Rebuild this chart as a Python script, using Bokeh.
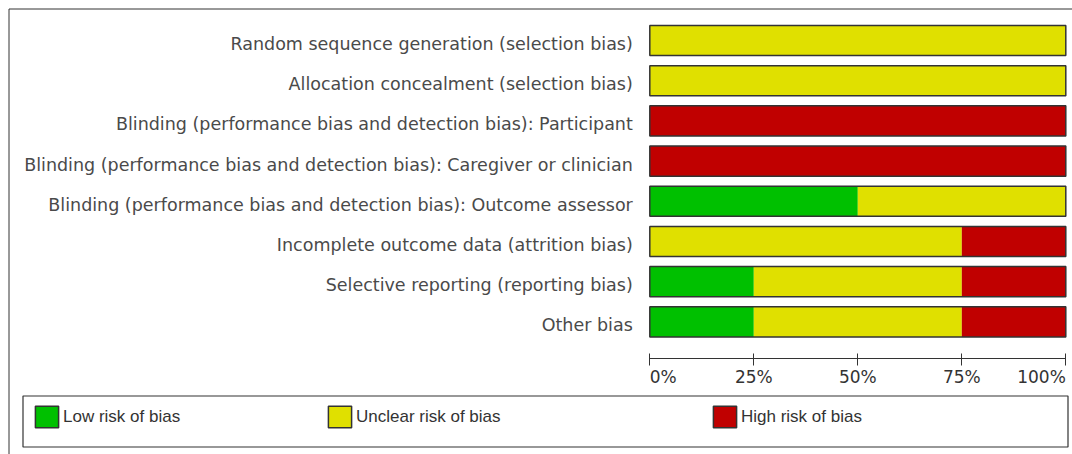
from bokeh.plotting import figure
from bokeh.models import Range1d, FixedTicker, Legend, LegendItem, ColumnDataSource, BoxAnnotation
from bokeh.embed import file_html
from bokeh.resources import INLINE
from bokeh.core.properties import value

# ---------------- data ----------------
domains = [
    "Random sequence generation (selection bias)",
    "Allocation concealment (selection bias)",
    "Blinding (performance bias and detection bias): Participant",
    "Blinding (performance bias and detection bias): Caregiver or clinician",
    "Blinding (performance bias and detection bias): Outcome assessor",
    "Incomplete outcome data (attrition bias)",
    "Selective reporting (reporting bias)",
    "Other bias",
]
low = [0, 0, 0, 0, 50, 0, 25, 25]
unclear = [100, 100, 0, 0, 50, 75, 50, 50]
high = [0, 0, 100, 100, 0, 25, 25, 25]
levels = ["Low risk of bias", "Unclear risk of bias", "High risk of bias"]
colors = ["#00C000", "#E0E000", "#C00000"]
ticks = [0, 25, 50, 75, 100]
tick_labels = ["0%", "25%", "50%", "75%", "100%"]

n = len(domains)
ypos = [n - 1 - i for i in range(n)]
total = [a + b + c for a, b, c in zip(low, unclear, high)]
src = ColumnDataSource(dict(y=ypos, low=low, unclear=unclear, high=high, total=total))

EDGE = "#333333"
W, H = 1065, 447

# ---------------- figure (frame covers whole canvas) ----------------
p = figure(width=W, height=H, margin=(7, 0, 0, 7),
           x_range=Range1d(-154.40, 101.61), y_range=Range1d(-3.299, 7.821),
           output_backend="svg", toolbar_location=None, min_border=0)
p.outline_line_color = None
p.xgrid.visible = False
p.ygrid.visible = False

# outer frame: only its top and left edges fall inside the window
p.add_layout(BoxAnnotation(left=1.5, right=W + 50, bottom=-50, top=H - 1.5,
                           left_units="screen", right_units="screen",
                           bottom_units="screen", top_units="screen",
                           fill_color=None, fill_alpha=0,
                           line_color=EDGE, line_width=1, line_alpha=1))

stack = p.hbar_stack(["low", "unclear", "high"], y="y", height=0.75,
                     fill_color=colors, line_color=None, source=src)
outline = p.hbar(y="y", left=0, right="total", height=0.75, fill_color=None,
                 line_color=EDGE, line_width=1.5, source=src)

# y axis: category labels, drawn at the 0 % line
ytick = [y - 0.085 for y in ypos]
p.yaxis.fixed_location = 0
p.yaxis.ticker = FixedTicker(ticks=ytick)
p.yaxis.major_label_overrides = {t: d for t, d in zip(ytick, domains)}
p.yaxis.axis_line_color = None
p.yaxis.major_tick_line_color = None
p.yaxis.minor_tick_line_color = None
p.yaxis.major_tick_in = 0
p.yaxis.major_tick_out = 0
p.yaxis.major_label_standoff = 17
p.yaxis.major_label_text_font = "DejaVu Sans"
p.yaxis.major_label_text_font_size = "17.5px"
p.yaxis.major_label_text_color = "#4a4a4a"

# x axis: percentage scale under the bars
p.xaxis.fixed_location = -0.91
p.xaxis.bounds = (0, 100)
p.xaxis.ticker = FixedTicker(ticks=ticks)
p.xaxis.major_label_overrides = {t: "" for t in ticks}
p.xaxis.axis_line_color = EDGE
p.xaxis.major_tick_line_color = EDGE
p.xaxis.minor_tick_line_color = None
p.xaxis.major_tick_in = 5
p.xaxis.major_tick_out = 7

label_y = -1.383
tick_font = dict(text_font=value("DejaVu Sans"), text_font_size=value("17px"),
                 text_color="#333333", text_baseline="middle")
p.text(x=ticks[:1], y=[label_y] * 1, text=tick_labels[:1], text_align="left", **tick_font)
p.text(x=ticks[1:-1], y=[label_y] * (len(ticks) - 2), text=tick_labels[1:-1],
       text_align="center", **tick_font)
p.text(x=ticks[-1:], y=[label_y] * 1, text=tick_labels[-1:], text_align="right", **tick_font)

# ---------------- legend box ----------------
p.add_layout(BoxAnnotation(left=15.5, right=1060.5, bottom=7.5, top=58.5,
                           left_units="screen", right_units="screen",
                           bottom_units="screen", top_units="screen",
                           fill_color=None, fill_alpha=0,
                           line_color=EDGE, line_width=1.2, line_alpha=1))

for lab, r, xloc in zip(levels, stack, [25, 318, 703]):
    leg = Legend(items=[LegendItem(label=lab, renderers=[r, outline])],
                 location=(xloc, 24), padding=0, margin=0, spacing=0,
                 border_line_color=None, background_fill_alpha=0,
                 glyph_width=29, glyph_height=27, label_height=27,
                 label_standoff=2,
                 label_text_font="Liberation Sans",
                 label_text_font_size="17px", label_text_color="#333333")
    p.add_layout(leg)

open("out.html", "w").write(file_html(p, INLINE))
